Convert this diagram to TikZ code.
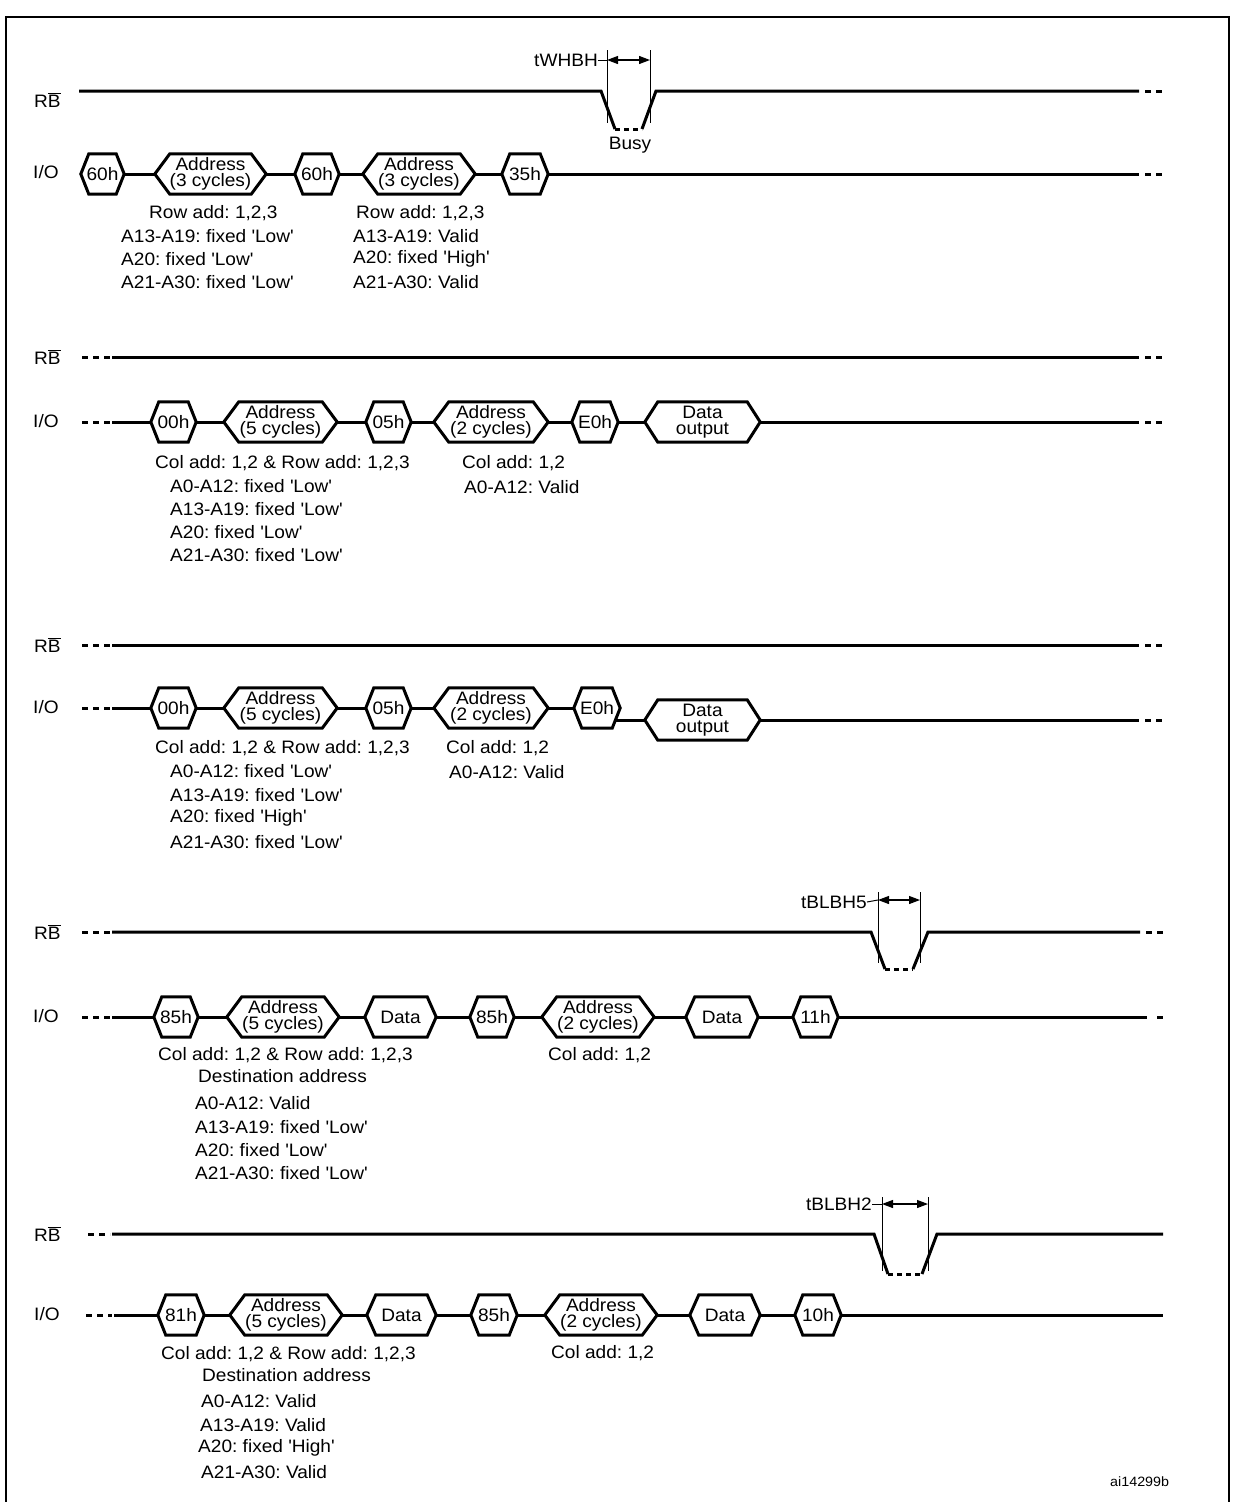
\documentclass[tikz,border=0pt]{standalone}
\usepackage{fontspec}
\setmainfont{Liberation Sans}[FakeStretch=1.06]
\usetikzlibrary{arrows.meta,calc}
\frenchspacing
\newcommand{\sq}[1]{\textquotesingle#1\textquotesingle}
\newcommand{\RBbar}{R$\overline{\mbox{B}}$}
\tikzset{
  sig/.style={line width=3pt},
  sigdash/.style={line width=3pt, dash pattern=on 6pt off 5pt},
  lowdash/.style={line width=3pt, dash pattern=on 5pt off 4pt},
  hexnode/.style={inner sep=0pt, minimum height=40pt, align=center, font=\fontsize{18}{16}\selectfont\frenchspacing},
  hexline/.style={line width=3pt, line join=miter},
  lbl/.style={font=\fontsize{18}{20}\selectfont\frenchspacing, inner sep=0pt},
  txt/.style={lbl, anchor=west},
  dimline/.style={line width=1pt},
  dimarrow/.style={line width=1.2pt, {Triangle[length=11pt,width=8pt]}-{Triangle[length=11pt,width=8pt]}},
}
\newcommand{\hexb}[6]{%
  \pgfmathsetmacro{\hexw}{#3-#2}%
  \pgfmathsetmacro{\hexc}{(#2+#3)/2}%
  \node[hexnode, minimum width=\hexw pt] (#1) at (\hexc,#4) {#6};
  \draw[hexline] (#1.west) -- ([xshift=#5pt]#1.north west) -- ([xshift=-#5pt]#1.north east) -- (#1.east) -- ([xshift=-#5pt]#1.south east) -- ([xshift=#5pt]#1.south west) -- cycle;
}
\begin{document}
\begin{tikzpicture}[x=1pt,y=-1pt]
\useasboundingbox (0,0) rectangle (1234,1502);
% frame
\draw[line width=2.5pt] (6,1502) -- (6,17) -- (1229,17) -- (1229,1502);

% ================= Panel 1 =================
\node[lbl, anchor=west] (rb1) at (34,100) {\RBbar};
\node[lbl, anchor=west] (io1) at (33,172) {I/O};
\coordinate (r1a) at (79,91);
\coordinate (r1b) at (601,91);
\coordinate (r1c) at (615,129);
\coordinate (r1d) at (642,129);
\coordinate (r1e) at (656,91);
\coordinate (r1f) at (1139,91);
\coordinate (r1g) at (1145,91);
\coordinate (r1h) at (1163,91);
\draw[sig] (r1a) -- (r1b) -- (r1c);
\draw[lowdash] (r1c) -- (r1d);
\draw[sig] (r1d) -- (r1e) -- (r1f);
\draw[sigdash] (r1g) -- (r1h);
\node[lbl, anchor=east] (d1) at (598,60) {tWHBH};
\coordinate (d1l) at (607,60);
\coordinate (d1r) at (650,60);
\coordinate (d1lt) at (607,50);
\coordinate (d1lb) at (607,123);
\coordinate (d1rt) at (650,50);
\coordinate (d1rb) at (650,123);
\draw[dimline] (d1lt) -- (d1lb);
\draw[dimline] (d1rt) -- (d1rb);
\draw[dimline] (d1.east) -- (d1l);
\draw[dimarrow] (d1l) -- (d1r);
\node[lbl] (busy) at (630,145) {Busy};

\hexb{p1a}{81}{124}{174}{8}{60h}
\hexb{p1b}{155}{266}{174}{15}{Address\\(3 cycles)}
\hexb{p1c}{295}{339}{174}{8}{60h}
\hexb{p1d}{363}{475}{174}{15}{Address\\(3 cycles)}
\hexb{p1e}{502}{548}{174}{8}{35h}
\coordinate (i1f) at (1139,174);
\coordinate (i1g) at (1145,174);
\coordinate (i1h) at (1163,174);
\draw[sig] (p1a.east) -- (p1b.west);
\draw[sig] (p1b.east) -- (p1c.west);
\draw[sig] (p1c.east) -- (p1d.west);
\draw[sig] (p1d.east) -- (p1e.west);
\draw[sig] (p1e.east) -- (i1f);
\draw[sigdash] (i1g) -- (i1h);

\node[txt] (t1a) at (149,213) {Row add: 1,2,3};
\node[txt] (t1b) at (121,236) {A13-A19: fixed \sq{Low}};
\node[txt] (t1c) at (121,259) {A20: fixed \sq{Low}};
\node[txt] (t1d) at (121,282) {A21-A30: fixed \sq{Low}};
\node[txt] (t1e) at (356,213) {Row add: 1,2,3};
\node[txt] (t1f) at (353,236) {A13-A19: Valid};
\node[txt] (t1g) at (353,259) {A20: fixed \sq{High}};
\node[txt] (t1h) at (353,282) {A21-A30: Valid};

% ================= Panel 2 =================
\node[lbl, anchor=west] (rb2) at (34,357) {\RBbar};
\node[lbl, anchor=west] (io2) at (33,421) {I/O};
\coordinate (r2a) at (82,357);
\coordinate (r2b) at (110,357);
\coordinate (r2c) at (112,357);
\coordinate (r2f) at (1139,357);
\coordinate (r2g) at (1145,357);
\coordinate (r2h) at (1163,357);
\draw[sigdash] (r2a) -- (r2b);
\draw[sig] (r2c) -- (r2f);
\draw[sigdash] (r2g) -- (r2h);

\hexb{p2a}{151}{196}{422}{8}{00h}
\hexb{p2b}{224}{337}{422}{15}{Address\\(5 cycles)}
\hexb{p2c}{366}{411}{422}{8}{05h}
\hexb{p2d}{434}{548}{422}{15}{Address\\(2 cycles)}
\hexb{p2e}{572}{618}{422}{8}{E0h}
\hexb{p2f}{645}{760}{422}{13}{Data\\output}
\coordinate (i2a) at (82,422);
\coordinate (i2b) at (110,422);
\coordinate (i2c) at (112,422);
\coordinate (i2f) at (1139,422);
\coordinate (i2g) at (1145,422);
\coordinate (i2h) at (1163,422);
\draw[sigdash] (i2a) -- (i2b);
\draw[sig] (i2c) -- (p2a.west);
\draw[sig] (p2a.east) -- (p2b.west);
\draw[sig] (p2b.east) -- (p2c.west);
\draw[sig] (p2c.east) -- (p2d.west);
\draw[sig] (p2d.east) -- (p2e.west);
\draw[sig] (p2e.east) -- (p2f.west);
\draw[sig] (p2f.east) -- (i2f);
\draw[sigdash] (i2g) -- (i2h);

\node[txt] (t2a) at (155,463) {Col add: 1,2 \& Row add: 1,2,3};
\node[txt] (t2b) at (170,486) {A0-A12: fixed \sq{Low}};
\node[txt] (t2c) at (170,509) {A13-A19: fixed \sq{Low}};
\node[txt] (t2d) at (170,532) {A20: fixed \sq{Low}};
\node[txt] (t2e) at (170,555) {A21-A30: fixed \sq{Low}};
\node[txt] (t2f) at (462,463) {Col add: 1,2};
\node[txt] (t2g) at (464,487) {A0-A12: Valid};

% ================= Panel 3 =================
\node[lbl, anchor=west] (rb3) at (34,645) {\RBbar};
\node[lbl, anchor=west] (io3) at (33,707) {I/O};
\coordinate (r3a) at (82,645);
\coordinate (r3b) at (110,645);
\coordinate (r3c) at (112,645);
\coordinate (r3f) at (1139,645);
\coordinate (r3g) at (1145,645);
\coordinate (r3h) at (1163,645);
\draw[sigdash] (r3a) -- (r3b);
\draw[sig] (r3c) -- (r3f);
\draw[sigdash] (r3g) -- (r3h);

\hexb{p3a}{151}{196}{708}{8}{00h}
\hexb{p3b}{224}{337}{708}{15}{Address\\(5 cycles)}
\hexb{p3c}{366}{411}{708}{8}{05h}
\hexb{p3d}{434}{548}{708}{15}{Address\\(2 cycles)}
\hexb{p3e}{574}{620}{708}{8}{E0h}
\hexb{p3f}{645}{760}{720}{13}{Data\\output}
\coordinate (i3a) at (82,708);
\coordinate (i3b) at (110,708);
\coordinate (i3c) at (112,708);
\coordinate (i3j) at (615,720);
\coordinate (i3f) at (1139,720);
\coordinate (i3g) at (1145,720);
\coordinate (i3h) at (1163,720);
\draw[sigdash] (i3a) -- (i3b);
\draw[sig] (i3c) -- (p3a.west);
\draw[sig] (p3a.east) -- (p3b.west);
\draw[sig] (p3b.east) -- (p3c.west);
\draw[sig] (p3c.east) -- (p3d.west);
\draw[sig] (p3d.east) -- (p3e.west);
\draw[sig] (i3j) -- (p3f.west);
\draw[sig] (p3f.east) -- (i3f);
\draw[sigdash] (i3g) -- (i3h);

\node[txt] (t3a) at (155,748) {Col add: 1,2 \& Row add: 1,2,3};
\node[txt] (t3b) at (170,771) {A0-A12: fixed \sq{Low}};
\node[txt] (t3c) at (170,795) {A13-A19: fixed \sq{Low}};
\node[txt] (t3d) at (170,818) {A20: fixed \sq{High}};
\node[txt] (t3e) at (170,842) {A21-A30: fixed \sq{Low}};
\node[txt] (t3f) at (446,748) {Col add: 1,2};
\node[txt] (t3g) at (449,772) {A0-A12: Valid};

% ================= Panel 4 =================
\node[lbl, anchor=west] (rb4) at (34,932) {\RBbar};
\node[lbl, anchor=west] (io4) at (33,1016) {I/O};
\coordinate (r4a) at (82,932);
\coordinate (r4b) at (110,932);
\coordinate (r4c) at (112,932);
\coordinate (r4d) at (871,932);
\coordinate (r4e) at (885,969);
\coordinate (r4k) at (913,969);
\coordinate (r4m) at (928,932);
\coordinate (r4f) at (1140,932);
\coordinate (r4g) at (1146,932);
\coordinate (r4h) at (1163,932);
\draw[sigdash] (r4a) -- (r4b);
\draw[sig] (r4c) -- (r4d) -- (r4e);
\draw[lowdash] (r4e) -- (r4k);
\draw[sig] (r4k) -- (r4m) -- (r4f);
\draw[sigdash] (r4g) -- (r4h);
\node[lbl, anchor=east] (d4) at (867,902) {tBLBH5};
\coordinate (d4l) at (878,900);
\coordinate (d4r) at (920,900);
\coordinate (d4lt) at (878,892);
\coordinate (d4lb) at (878,963);
\coordinate (d4rt) at (920,892);
\coordinate (d4rb) at (920,963);
\draw[dimline] (d4lt) -- (d4lb);
\draw[dimline] (d4rt) -- (d4rb);
\draw[dimline] (d4.east) -- (d4l);
\draw[dimarrow] (d4l) -- (d4r);

\hexb{p4a}{154}{198}{1017}{8}{85h}
\hexb{p4b}{227}{339}{1017}{15}{Address\\(5 cycles)}
\hexb{p4c}{365}{436}{1017}{9}{Data}
\hexb{p4d}{470}{514}{1017}{8}{85h}
\hexb{p4e}{542}{654}{1017}{15}{Address\\(2 cycles)}
\hexb{p4f}{686}{758}{1017}{9}{Data}
\hexb{p4g}{793}{838}{1017}{8}{11h}
\coordinate (i4a) at (82,1017);
\coordinate (i4b) at (110,1017);
\coordinate (i4c) at (112,1017);
\coordinate (i4f) at (1147,1017);
\coordinate (i4g) at (1157,1017);
\coordinate (i4h) at (1163,1017);
\draw[sigdash] (i4a) -- (i4b);
\draw[sig] (i4c) -- (p4a.west);
\draw[sig] (p4a.east) -- (p4b.west);
\draw[sig] (p4b.east) -- (p4c.west);
\draw[sig] (p4c.east) -- (p4d.west);
\draw[sig] (p4d.east) -- (p4e.west);
\draw[sig] (p4e.east) -- (p4f.west);
\draw[sig] (p4f.east) -- (p4g.west);
\draw[sig] (p4g.east) -- (i4f);
\draw[sig] (i4g) -- (i4h);

\node[txt] (t4a) at (158,1055) {Col add: 1,2 \& Row add: 1,2,3};
\node[txt] (t4b) at (198,1076) {Destination address};
\node[txt] (t4c) at (195,1103) {A0-A12: Valid};
\node[txt] (t4d) at (195,1127) {A13-A19: fixed \sq{Low}};
\node[txt] (t4e) at (195,1150) {A20: fixed \sq{Low}};
\node[txt] (t4f) at (195,1173) {A21-A30: fixed \sq{Low}};
\node[txt] (t4g) at (548,1055) {Col add: 1,2};

% ================= Panel 5 =================
\node[lbl, anchor=west] (rb5) at (34,1234) {\RBbar};
\node[lbl, anchor=west] (io5) at (34,1314) {I/O};
\coordinate (r5a) at (88,1234);
\coordinate (r5b) at (110,1234);
\coordinate (r5c) at (112,1234);
\coordinate (r5d) at (874,1234);
\coordinate (r5e) at (888,1274);
\coordinate (r5k) at (922,1274);
\coordinate (r5m) at (937,1234);
\coordinate (r5f) at (1163,1234);
\draw[sigdash] (r5a) -- (r5b);
\draw[sig] (r5c) -- (r5d) -- (r5e);
\draw[lowdash] (r5e) -- (r5k);
\draw[sig] (r5k) -- (r5m) -- (r5f);
\node[lbl, anchor=east] (d5) at (872,1204) {tBLBH2};
\coordinate (d5l) at (882,1204);
\coordinate (d5r) at (928,1204);
\coordinate (d5lt) at (882,1197);
\coordinate (d5lb) at (882,1271);
\coordinate (d5rt) at (928,1197);
\coordinate (d5rb) at (928,1271);
\draw[dimline] (d5lt) -- (d5lb);
\draw[dimline] (d5rt) -- (d5rb);
\draw[dimline] (d5.east) -- (d5l);
\draw[dimarrow] (d5l) -- (d5r);

\hexb{p5a}{158}{204}{1315}{8}{81h}
\hexb{p5b}{230}{342}{1315}{15}{Address\\(5 cycles)}
\hexb{p5c}{367}{436}{1315}{9}{Data}
\hexb{p5d}{471}{517}{1315}{8}{85h}
\hexb{p5e}{545}{657}{1315}{15}{Address\\(2 cycles)}
\hexb{p5f}{690}{760}{1315}{9}{Data}
\hexb{p5g}{795}{841}{1315}{8}{10h}
\coordinate (i5a) at (86,1315);
\coordinate (i5b) at (112,1315);
\coordinate (i5c) at (114,1315);
\coordinate (i5f) at (1163,1315);
\draw[sigdash] (i5a) -- (i5b);
\draw[sig] (i5c) -- (p5a.west);
\draw[sig] (p5a.east) -- (p5b.west);
\draw[sig] (p5b.east) -- (p5c.west);
\draw[sig] (p5c.east) -- (p5d.west);
\draw[sig] (p5d.east) -- (p5e.west);
\draw[sig] (p5e.east) -- (p5f.west);
\draw[sig] (p5f.east) -- (p5g.west);
\draw[sig] (p5g.east) -- (i5f);

\node[txt] (t5a) at (161,1354) {Col add: 1,2 \& Row add: 1,2,3};
\node[txt] (t5b) at (202,1375) {Destination address};
\node[txt] (t5c) at (201,1401) {A0-A12: Valid};
\node[txt] (t5d) at (200,1425) {A13-A19: Valid};
\node[txt] (t5e) at (198,1448) {A20: fixed \sq{High}};
\node[txt] (t5f) at (201,1472) {A21-A30: Valid};
\node[txt] (t5g) at (551,1353) {Col add: 1,2};

\node[anchor=west, inner sep=0pt, font=\fontsize{13.5}{15}\selectfont] (code) at (1110,1482) {ai14299b};
\end{tikzpicture}
\end{document}
